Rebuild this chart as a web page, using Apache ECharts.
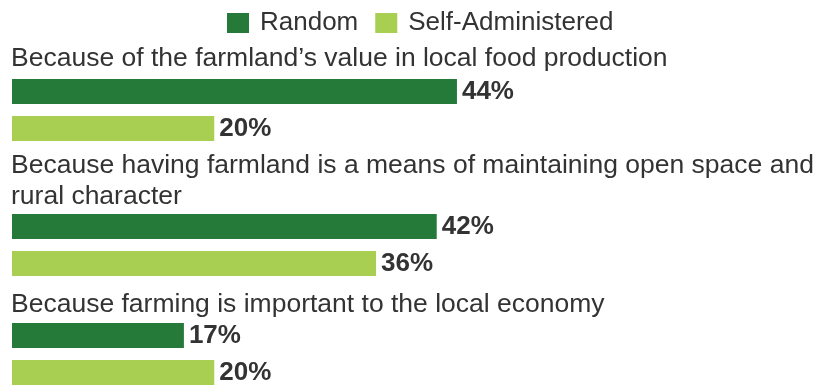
<!DOCTYPE html>
<html>
<head>
<meta charset="utf-8">
<script src="https://cdn.jsdelivr.net/npm/echarts@6/dist/echarts.min.js"></script>
<style>html,body{margin:0;padding:0;background:#fff}#c{width:823px;height:388px}</style>
</head>
<body>
<div id="c"></div>
<script>
const categories = [
  "Because of the farmland\u2019s value in local food production",
  "Because having farmland is a means of maintaining open space and\nrural character",
  "Because farming is important to the local economy"
];
const seriesNames = ["Random", "Self-Administered"];
const randomValues = [44, 42, 17];
const selfValues = [20, 36, 20];

const colors = ["#267a39", "#a8cf52"];
const gridTops = [79, 214, 323];
const titleTops = [43, 150, 289];
const font = "'Liberation Sans', Arial, sans-serif";

const grids = [], xAxes = [], yAxes = [], series = [], titles = [];
categories.forEach((cat, i) => {
  grids.push({left: 12, width: 809, top: gridTops[i], height: 62});
  xAxes.push({type: 'value', gridIndex: i, min: 0, max: 80, show: false});
  yAxes.push({type: 'category', gridIndex: i, data: [cat], inverse: true, show: false});
  titles.push({text: cat, left: 11, top: titleTops[i], padding: 0,
    textStyle: {fontFamily: font, fontSize: 26.5, fontWeight: 'normal', color: '#333', lineHeight: 31}});
  [randomValues, selfValues].forEach((vals, s) => {
    series.push({
      name: seriesNames[s], type: 'bar', xAxisIndex: i, yAxisIndex: i,
      data: [vals[i]], barWidth: 25, barGap: '48%',
      itemStyle: {color: colors[s]},
      label: {show: true, position: 'right', distance: 5, formatter: '{c}%',
        fontFamily: font, fontSize: 26, fontWeight: 'bold', color: '#333'},
      silent: true, animation: false
    });
  });
});

const chart = echarts.init(document.getElementById('c'));
chart.setOption({
  animation: false,
  title: titles,
  legend: {
    data: seriesNames, top: 5, left: 222, itemWidth: 22, itemHeight: 20, itemGap: 17,
    icon: 'rect',
    textStyle: {fontFamily: font, fontSize: 26, color: '#333', padding: [0, 0, 0, 6]}
  },
  grid: grids, xAxis: xAxes, yAxis: yAxes, series: series
});
</script>
</body>
</html>
